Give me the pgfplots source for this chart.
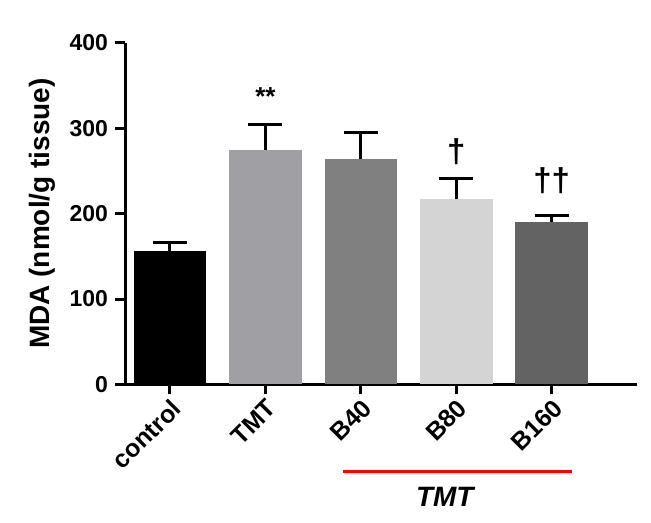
\documentclass[border=0pt]{standalone}
\usepackage{pgfplots}
\pgfplotsset{compat=1.18}
\usepackage{fontspec}
\setmainfont{Liberation Sans}
\definecolor{cTMT}{HTML}{A0A0A4}
\definecolor{cBforty}{HTML}{808080}
\definecolor{cBeighty}{HTML}{D4D4D4}
\definecolor{cBonesixty}{HTML}{636363}
\begin{document}
\begin{tikzpicture}
\begin{axis}[
    scale only axis,
    width=256pt,
    height=171pt,
    ybar,
    bar width=0.76,
    bar shift=0pt,
    xmin=-0.47, xmax=4.89,
    ymin=0, ymax=400,
    clip=false,
    axis lines*=left,
    axis line style={line width=1.5pt},
    xtick={0,...,4},
    xticklabels={control,TMT,B40,B80,B160},
    ytick={0,100,...,400},
    tick align=outside,
    major tick length=5pt,
    tick style={black, line width=1.5pt},
    /pgf/number format/assume math mode=true,
    yticklabel style={font=\fontsize{11.5}{13}\selectfont\bfseries},
    xticklabel style={font=\fontsize{12.5}{14}\selectfont\bfseries, rotate=45, anchor=north east, inner sep=1pt},
    ylabel={MDA (nmol/g tissue)},
    ylabel style={font=\fontsize{14}{16}\selectfont\bfseries},
    error bars/y dir=plus,
    error bars/y explicit,
    error bars/error bar style={line width=1.5pt, black},
    error bars/error mark options={line width=1.5pt, black, mark size=8.5pt, rotate=90},
]
\addplot[fill=black, draw=none] coordinates {(0,156) +- (0,10)};
\addplot[fill=cTMT, draw=none] coordinates {(1,275) +- (0,29)};
\addplot[fill=cBforty, draw=none] coordinates {(2,264) +- (0,31)};
\addplot[fill=cBeighty, draw=none] coordinates {(3,217) +- (0,24)};
\addplot[fill=cBonesixty, draw=none] coordinates {(4,190) +- (0,8)};
\node[font=\fontsize{13}{15}\selectfont\bfseries] at (axis cs:1,337) {**};
\node[font=\fontsize{16.5}{18}\selectfont\bfseries] at (axis cs:3,272) {†};
\node[font=\fontsize{16.5}{18}\selectfont\bfseries] at (axis cs:4,238) {††};
\draw[red, line width=1.5pt] (axis cs:1.81,-102) -- (axis cs:4.21,-102);
\node[font=\fontsize{14}{16}\selectfont\bfseries\itshape] at (axis cs:2.88,-132) {TMT};
\path (axis cs:-1.78,-161) rectangle (axis cs:5.04,450);
\end{axis}
\end{tikzpicture}
\end{document}
